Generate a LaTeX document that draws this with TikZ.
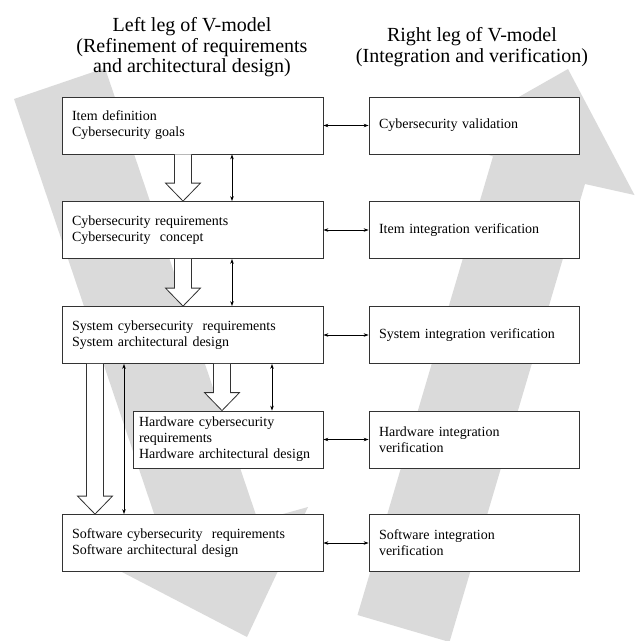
\documentclass[tikz,border=0pt]{standalone}
\usepackage{fontspec}
\setmainfont{Liberation Serif}
\usepackage{tikz}
\usetikzlibrary{arrows.meta, calc}

\definecolor{leggray}{RGB}{218,218,218}

\tikzset{
  stage/.style={draw=black!80, line width=0.8pt, fill=white, align=left,
    inner xsep=10pt, inner ysep=0pt, minimum height=57pt,
    font=\fontsize{14}{16}\selectfont},
  link/.style={<->, >={Stealth[length=5pt, width=3.5pt]}, line width=0.6pt},
  hollow/.style={draw=black!80, line width=0.8pt, fill=white},
  legtitle/.style={align=center, font=\fontsize{20}{20.5}\selectfont}
}

% block arrow from #1 down to #2
\newcommand{\blockdown}[2]{%
  \draw[hollow] ($(#1)+(-8.5,0)$) -- ($(#2)+(-8.5,-18)$) -- ($(#2)+(-17.5,-18)$)
    -- (#2) -- ($(#2)+(17.5,-18)$) -- ($(#2)+(8.5,-18)$) -- ($(#1)+(8.5,0)$);}

\begin{document}
\begin{tikzpicture}[x=1pt, y=-1pt]
  \clip (0,0) rectangle (635,641);

  % the grey V behind
  \fill[leggray] (14,99) -- (105,68) -- (258,521) -- (308,507) -- (247,637)
    -- (120,571) -- (167,552) -- cycle;
  \fill[leggray] (357.5,615) -- (449.5,642) -- (585,184) -- (634.5,195) -- (568,69)
    -- (445,139) -- (493,156.5) -- cycle;

  \node[legtitle] (lefthead) at (192,47.5) {Left leg of V-model\\(Refinement of requirements\\and architectural design)};
  \node[legtitle] (righthead) at (472,47) {Right leg of V-model\\(Integration and verification)};

  % left leg
  \node[stage, text width=241pt] (item) at (192.5,125.5) {Item definition\\Cybersecurity goals};
  \node[stage, text width=241pt] (concept) at (192.5,230) {Cybersecurity requirements\\Cybersecurity\ \ concept};
  \node[stage, text width=241pt] (system) at (192.5,335) {System cybersecurity\ \ requirements\\System architectural design};
  \node[stage, text width=178pt, inner xsep=6pt] (hardware) at (228,439.5) {Hardware cybersecurity\\requirements\\Hardware architectural design};
  \node[stage, text width=241pt] (software) at (192.5,543) {Software cybersecurity\ \ requirements\\Software architectural design};

  % right leg
  \node[stage, text width=190pt] (validation) at (474,125.5) {Cybersecurity validation};
  \node[stage, text width=190pt] (itemint) at (474,230) {Item integration verification};
  \node[stage, text width=190pt] (sysint) at (474,335) {System integration verification};
  \node[stage, text width=190pt] (hwint) at (474,439.5) {Hardware integration\\verification};
  \node[stage, text width=190pt] (swint) at (474,543) {Software integration\\verification};

  \foreach \a/\b in {item/validation, concept/itemint, system/sysint, hardware/hwint, software/swint}
    \draw[link] (\a.east) -- (\b.west);

  % thin arrows between the levels
  \coordinate (t1) at ([xshift=39.5pt]item.south);
  \coordinate (t2) at ([xshift=39.5pt]concept.south);
  \coordinate (t3) at ([xshift=79.5pt]system.south);
  \coordinate (t4) at ([xshift=-68.5pt]system.south);
  \draw[link] (t1) -- (t1 |- concept.north);
  \draw[link] (t2) -- (t2 |- system.north);
  \draw[link] (t3) -- (t3 |- hardware.north);
  \draw[link] (t4) -- (t4 |- software.north);

  % block arrows
  \coordinate (h1) at ([xshift=-9.5pt]item.south);
  \coordinate (h2) at ([xshift=-9.5pt]concept.south);
  \coordinate (h3) at ([xshift=29.5pt]system.south);
  \coordinate (h4) at ([xshift=-97.5pt]system.south);
  \coordinate (e1) at (h1 |- concept.north);
  \coordinate (e2) at (h2 |- system.north);
  \coordinate (e3) at (h3 |- hardware.north);
  \coordinate (e4) at (h4 |- software.north);
  \blockdown{h1}{e1}
  \blockdown{h2}{e2}
  \blockdown{h3}{e3}
  \blockdown{h4}{e4}
\end{tikzpicture}
\end{document}
